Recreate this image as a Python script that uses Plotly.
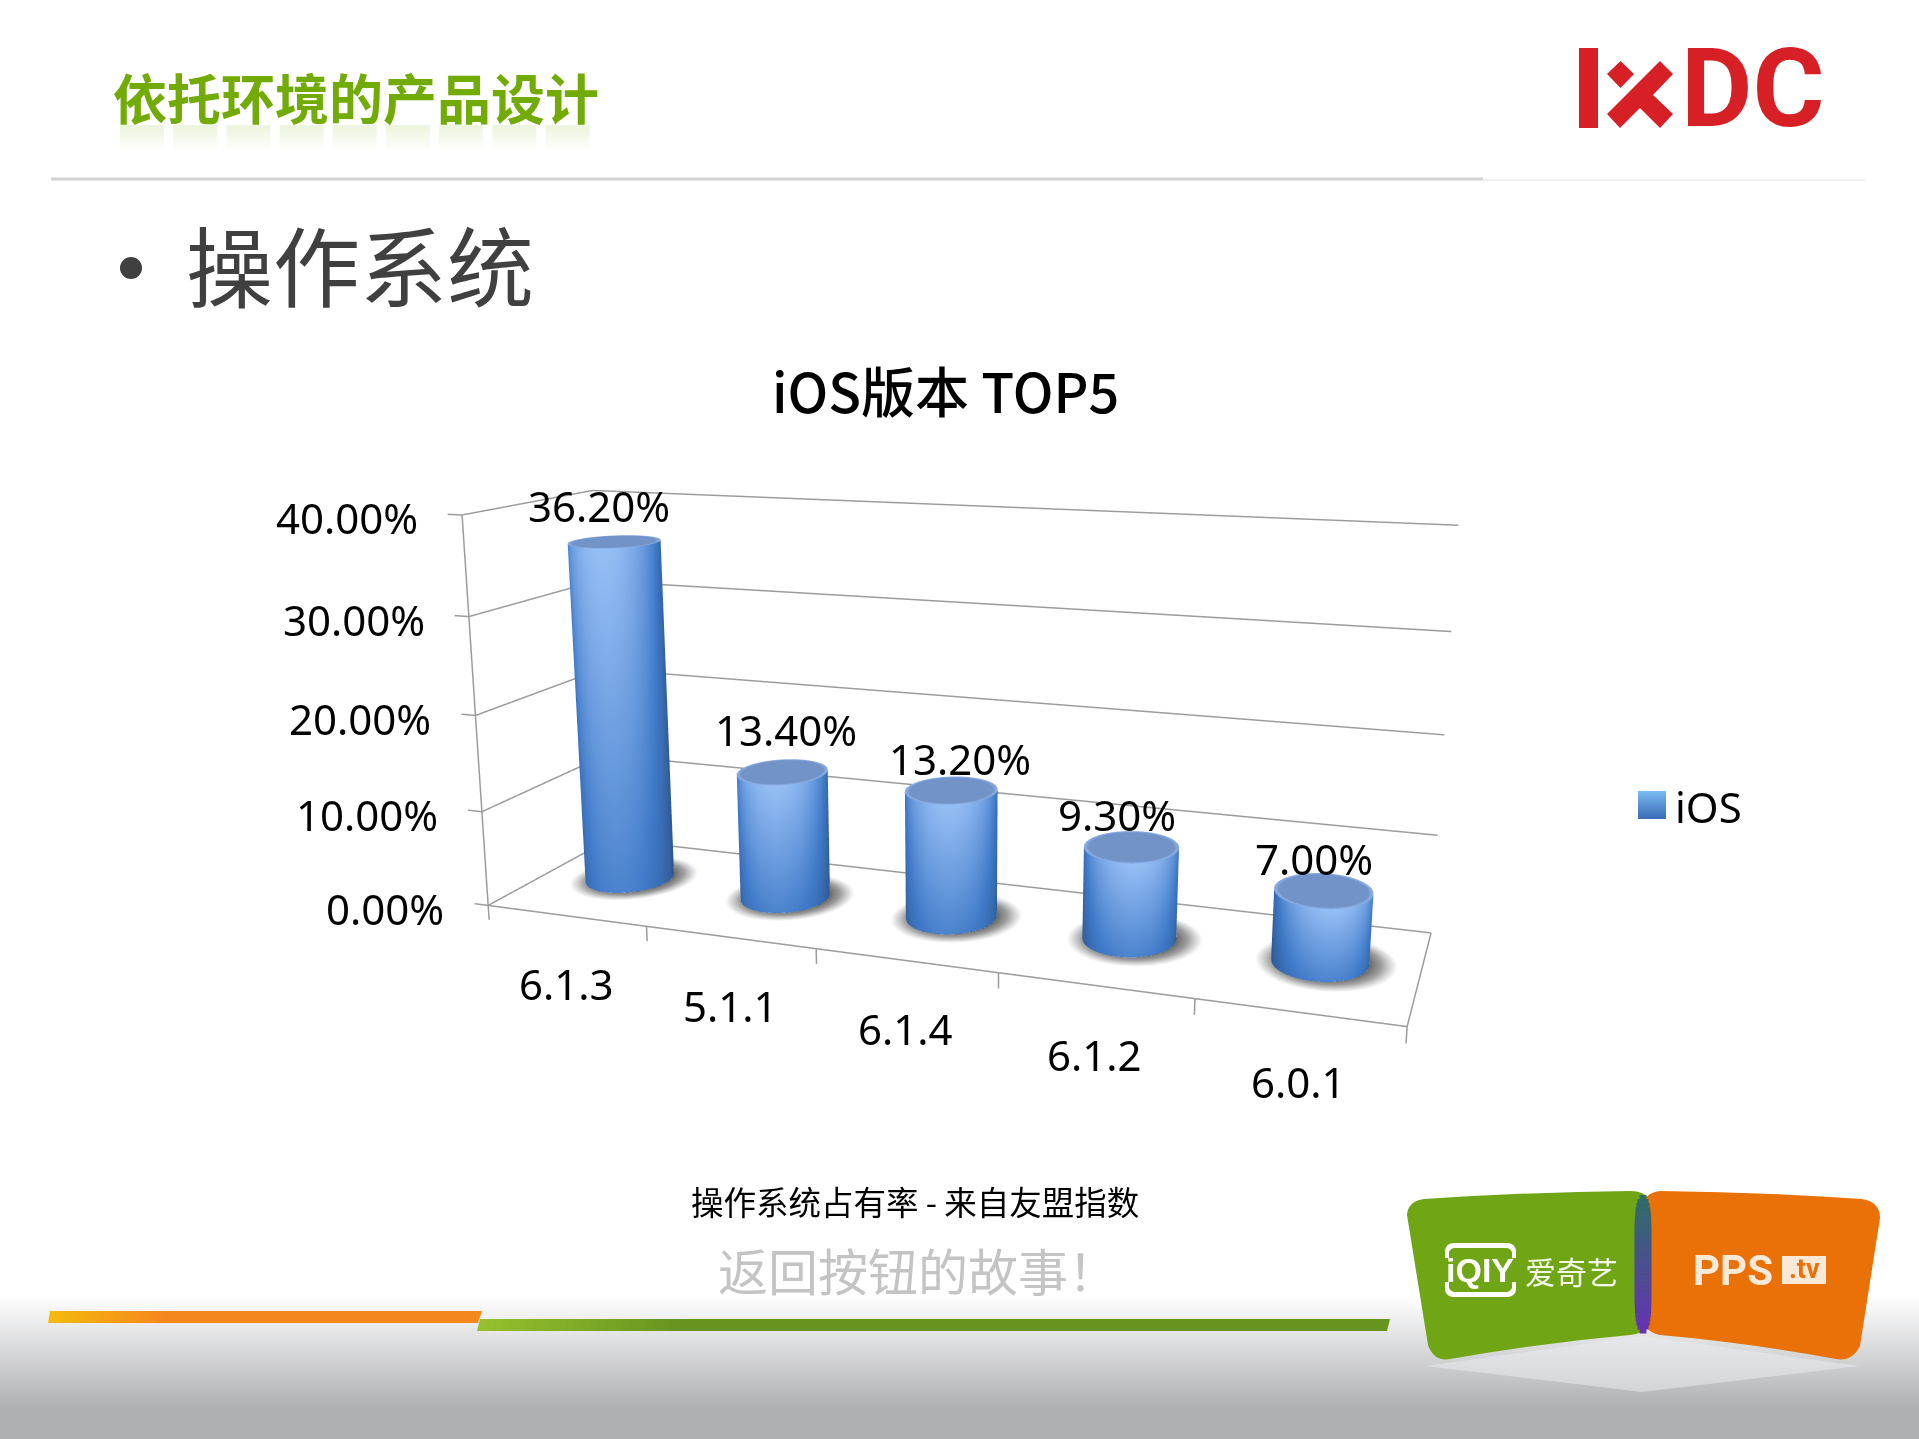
"""iOS version share slide, rebuilt with a plotly 3D scene."""

import numpy as np
import plotly.graph_objects as go

W, H = 1919, 1439

versions = ["6.1.3", "5.1.1", "6.1.4", "6.1.2", "6.0.1"]
share = [36.2, 13.4, 13.2, 9.3, 7.0]
share_labels = ["36.20%", "13.40%", "13.20%", "9.30%", "7.00%"]
z_ticks = [0, 10, 20, 30, 40]
z_tick_labels = ["0.00%", "10.00%", "20.00%", "30.00%", "40.00%"]
label_dx = [-16, 4, 9, -14, -10]
label_dy = [36, 42, 32, 32, 32]

BASE_FONT = "Noto Sans, Noto Sans CJK SC"
CJK_FONT = "Noto Sans CJK SC"
GRID = "#9c9c9c"

X_RANGE = [-0.09, 5.02]
Y_RANGE = [-0.01, 1.01]
Z_RANGE = [-1.6, 40.3]
TICK_LOW = -1.55
RX, RY = 0.245, 0.215
BAR_DEPTH = 0.53
CAM_YAW = np.radians(19.5)

BAR_SCALE = [[0, "rgb(42,80,135)"], [0.45, "rgb(64,122,200)"], [1, "rgb(150,190,245)"]]


def px(x):
    return x / W


def py(y):
    return 1 - y / H


def rect(x0, y0, x1, y1, color):
    return dict(type="rect", xref="paper", yref="paper", x0=px(x0), x1=px(x1),
                y0=py(y0), y1=py(y1), fillcolor=color, line_width=0, layer="below")


def path(points, color):
    # points are (cmd, x, y) or (cmd, cx, cy, x, y) in pixels
    d = ""
    for p in points:
        d += p[0]
        nums = p[1:]
        for i in range(0, len(nums), 2):
            d += f"{px(nums[i]):.5f},{py(nums[i + 1]):.5f} "
    return dict(type="path", xref="paper", yref="paper", path=d + "Z", fillcolor=color,
                line_width=0, layer="below")


def text(x, y, s, size, color="#000000", family=CJK_FONT, anchor="center", weight=None):
    font = dict(size=size, color=color, family=family)
    if weight:
        font["weight"] = weight
    return dict(xref="paper", yref="paper", x=px(x), y=py(y), text=s, showarrow=False,
                font=font, xanchor=anchor, yanchor="middle")


def mix(c0, c1, t):
    return "rgb(%d,%d,%d)" % tuple(a + (b - a) * t for a, b in zip(c0, c1))


shapes = []
annotations = []

# bottom grey band
steps = 70
for i in range(steps):
    y0 = 1296 + i * (H - 1296) / steps
    t = i / (steps - 1)
    shapes.append(rect(0, y0, W, y0 + (H - 1296) / steps + 1,
                       mix((255, 255, 255), (174, 175, 179), min(t * 1.25, 1))))

# header
shapes.append(rect(51, 177.5, 1483, 180.5, "#d2d2d2"))
shapes.append(rect(1483, 179.5, 1865, 181, "#ececec"))
shapes.append(dict(type="circle", xref="paper", yref="paper", x0=px(120), x1=px(142),
                   y0=py(257), y1=py(279), fillcolor="#404040", line_width=0, layer="below"))

# faded reflection under the heading
for c in range(9):
    for r in range(7):
        shapes.append(rect(120 + c * 53.2, 125 + r * 3.4, 164 + c * 53.2, 128.4 + r * 3.4,
                           f"rgba(114,171,6,{0.13 - r * 0.018:.3f})"))

annotations.append(text(356, 96, "依托环境的产品设计", 54, "#72ab06", weight=700))
annotations.append(text(184, 263, "操作系统", 87, "#404040", anchor="left"))
annotations.append(text(945, 390, "iOS版本 TOP5", 54, "#000000", weight=500))
annotations.append(text(915, 1200, "操作系统占有率 - 来自友盟指数", 32.5, "#000000"))
annotations.append(text(918, 1269, "返回按钮的故事！", 50, "#c4c4c4"))

# IxDC logo
RED = "#d71f26"
shapes.append(rect(1579, 48, 1598, 128, RED))
shapes.append(path([("M", 1607, 74), ("L", 1620.5, 61), ("L", 1634, 74), ("L", 1620.5, 88)], RED))
shapes.append(path([("M", 1607, 114), ("L", 1660, 61), ("L", 1673, 74), ("L", 1653, 95),
                    ("L", 1673, 114), ("L", 1660, 128), ("L", 1640, 108), ("L", 1620, 128)], RED))
annotations.append(text(1752, 89, "DC", 110, RED, family="Roboto", weight=700))

# legend
for i in range(14):
    shapes.append(rect(1638, 791 + i * 2, 1666, 793 + i * 2,
                       mix((120, 185, 240), (60, 110, 185), i / 13)))
annotations.append(text(1708, 807, "iOS", 42, family=BASE_FONT))

# footer stripes
for i in range(20):
    shapes.append(path([("M", 50 + i * 6, 1311), ("L", 57 + i * 6, 1311),
                        ("L", 57 + i * 6, 1323), ("L", 48 + i * 6, 1323)],
                       mix((245, 185, 15), (245, 135, 30), i / 19)))
shapes.append(path([("M", 168, 1311), ("L", 482, 1311), ("L", 478, 1323), ("L", 168, 1323)], "#f5871f"))
for i in range(26):
    shapes.append(path([("M", 480 + i * 8, 1319), ("L", 489 + i * 8, 1319),
                        ("L", 489 + i * 8, 1331), ("L", 477 + i * 8, 1331)],
                       mix((150, 192, 46), (102, 148, 31), i / 25)))
shapes.append(path([("M", 688, 1319), ("L", 1390, 1319), ("L", 1387, 1331), ("L", 688, 1331)], "#66941f"))

# iqiyi / pps badges
shapes.append(path([("M", 1425, 1366), ("L", 1642, 1336), ("L", 1860, 1366), ("L", 1642, 1392)],
                   "rgba(236,238,241,0.5)"))
shapes.append(path([("M", 1407, 1215), ("Q", 1408, 1201, 1424, 1199), ("Q", 1530, 1192, 1630, 1191),
                    ("Q", 1645, 1191, 1650, 1200), ("L", 1650, 1325), ("Q", 1645, 1333, 1630, 1335),
                    ("Q", 1540, 1343, 1450, 1359), ("Q", 1434, 1362, 1428, 1345)], "#70a516"))
shapes.append(path([("M", 1644, 1200), ("Q", 1649, 1192, 1660, 1191), ("Q", 1760, 1192, 1862, 1199),
                    ("Q", 1880, 1202, 1880, 1218), ("L", 1860, 1346), ("Q", 1852, 1362, 1836, 1359),
                    ("Q", 1750, 1343, 1660, 1335), ("Q", 1650, 1333, 1644, 1325)], "#ea7008"))
slices = 34
for i in range(slices):
    t = (i + 0.5) / slices
    half = 8.5 * (1 - abs(2 * t - 1) ** 6) ** 0.5
    y0 = 1195 + i * 138 / slices
    shapes.append(rect(1643 - half, y0, 1643 + half, y0 + 138 / slices + 0.5,
                       mix((46, 110, 105), (102, 50, 180), t)))
# iqiyi frame: top and bottom bars with short sides
shapes.append(path([("M", 1445, 1258), ("L", 1445, 1250), ("Q", 1446, 1244, 1453, 1243), ("L", 1508, 1243),
                    ("Q", 1515, 1244, 1516, 1250), ("L", 1516, 1258), ("L", 1512, 1258),
                    ("L", 1512, 1252), ("Q", 1510, 1248, 1506, 1248), ("L", 1455, 1248),
                    ("Q", 1451, 1248, 1449, 1252), ("L", 1449, 1258)], "#ffffff"))
shapes.append(path([("M", 1445, 1282), ("L", 1445, 1290), ("Q", 1446, 1296, 1453, 1297), ("L", 1508, 1297),
                    ("Q", 1515, 1296, 1516, 1290), ("L", 1516, 1282), ("L", 1512, 1282),
                    ("L", 1512, 1288), ("Q", 1510, 1292, 1506, 1292), ("L", 1455, 1292),
                    ("Q", 1451, 1292, 1449, 1288), ("L", 1449, 1282)], "#ffffff"))
annotations.append(text(1480, 1270, "iQIY", 34, "#ffffff", family="Liberation Sans", weight=700))
annotations.append(text(1571, 1270, "爱奇艺", 31, "#f2f7e8"))
annotations.append(text(1733, 1270, "PPS", 42, "#fbe9d8", family="Roboto", weight=700))
shapes.append(rect(1782, 1256, 1826, 1284, "#fbe9d8"))
annotations.append(text(1804, 1269, ".tv", 27, "#ea7008", family="Roboto", weight=700))

# chart frame
grid_x, grid_y, grid_z = [], [], []
for z in z_ticks:
    grid_x += [X_RANGE[0], 0, 0, 5, None]
    grid_y += [0, 0, 1, 1, None]
    grid_z += [z, z, z, z, None]
grid_x += [0, 0, None, 0, 5, 5, None]
grid_y += [0, 0, None, 0, 0, 1, None]
grid_z += [TICK_LOW, 40, None, 0, 0, 0, None]
for i in range(1, 6):
    grid_x += [i, i, None]
    grid_y += [0, 0, None]
    grid_z += [0, TICK_LOW, None]

traces = [go.Scatter3d(x=grid_x, y=grid_y, z=grid_z, mode="lines",
                       line=dict(color=GRID, width=3), hoverinfo="skip", showlegend=False)]

theta = np.linspace(0, 2 * np.pi, 91)
eye_dir = np.array([np.sin(CAM_YAW), -np.cos(CAM_YAW)])
facing = np.clip(np.cos(theta) * eye_dir[0] + np.sin(theta) * eye_dir[1], 0, 1)
glow = 0.42 + 0.58 * facing ** 1.1

flat_light = dict(ambient=1, diffuse=0, specular=0, roughness=1, fresnel=0)
for i, value in enumerate(share):
    cx, cy = i + 0.5, BAR_DEPTH

    # soft shadow on the floor
    rings = np.linspace(0.85, 1.45, 8)
    tt, rr = np.meshgrid(theta, rings)
    traces.append(go.Surface(
        x=cx + 0.03 + RX * rr * np.cos(tt), y=cy + RY * rr * np.sin(tt), z=np.full(rr.shape, 0.04),
        surfacecolor=(rr - rings[0]) / (rings[-1] - rings[0]),
        colorscale=[[0, "rgb(70,70,70)"], [1, "rgb(120,120,120)"]], cmin=0, cmax=1,
        opacityscale=[[0, 0.85], [0.45, 0.6], [1, 0]], showscale=False, hoverinfo="skip",
        lighting=flat_light))

    # cylinder side
    heights = np.linspace(0, value, 14)
    tt, zz = np.meshgrid(theta, heights)
    tone = 0.62 + 0.38 * heights / value
    traces.append(go.Surface(
        x=cx + RX * np.cos(tt), y=cy + RY * np.sin(tt), z=zz,
        surfacecolor=np.outer(tone, glow),
        colorscale=BAR_SCALE, cmin=0.2, cmax=1, showscale=False, hoverinfo="skip",
        lighting=flat_light))

    # cylinder cap
    rings = np.array([0, 0.9, 0.96, 1.0])
    tt, rr = np.meshgrid(theta, rings)
    traces.append(go.Surface(
        x=cx + RX * rr * np.cos(tt), y=cy + RY * rr * np.sin(tt), z=np.full(rr.shape, value),
        surfacecolor=np.where(rr > 0.93, 0.55, 0.3) * np.ones(rr.shape),
        colorscale=[[0, "rgb(114,147,200)"], [1, "rgb(135,170,225)"]], cmin=0.3, cmax=0.55,
        showscale=False, hoverinfo="skip", lighting=flat_light))

scene_notes = []
for z, lab in zip(z_ticks, z_tick_labels):
    scene_notes.append(dict(x=0, y=0, z=z, text=lab, showarrow=False, xanchor="right",
                            yanchor="middle", xshift=-42, yshift=-3,
                            font=dict(size=42, color="#000000", family=BASE_FONT)))
for i, name in enumerate(versions):
    scene_notes.append(dict(x=i + 0.5, y=0, z=TICK_LOW, text=name, showarrow=False,
                            yanchor="middle", xshift=0, yshift=-53,
                            font=dict(size=42, color="#000000", family=BASE_FONT)))
for i, lab in enumerate(share_labels):
    scene_notes.append(dict(x=i + 0.5, y=BAR_DEPTH, z=share[i], text=lab, showarrow=False,
                            yanchor="middle", yshift=label_dy[i], xshift=label_dx[i],
                            font=dict(size=42, color="#000000", family=BASE_FONT)))

hidden = dict(visible=False, showgrid=False, zeroline=False, showspikes=False)
fig = go.Figure(data=traces)
fig.update_layout(
    width=W, height=H, margin=dict(l=0, r=0, t=0, b=0), autosize=False,
    paper_bgcolor="#ffffff", showlegend=False,
    shapes=shapes, annotations=annotations,
    scene=dict(
        domain=dict(x=[0, 1], y=[0, 1]),
        bgcolor="rgba(0,0,0,0)",
        xaxis=dict(range=X_RANGE, **hidden),
        yaxis=dict(range=Y_RANGE, **hidden),
        zaxis=dict(range=Z_RANGE, **hidden),
        aspectmode="manual",
        aspectratio=dict(x=1.0537, y=0.2754, z=0.4710),
        camera=dict(eye=dict(x=0.6358, y=-1.74, z=0.4575),
                    center=dict(x=0.0178, y=0.0052, z=0.0131),
                    up=dict(x=0, y=0, z=1),
                    projection=dict(type="perspective")),
        annotations=scene_notes,
    ),
)
fig.write_html("out.html", config={"displayModeBar": False},
               post_script="document.body.style.margin='0';")
